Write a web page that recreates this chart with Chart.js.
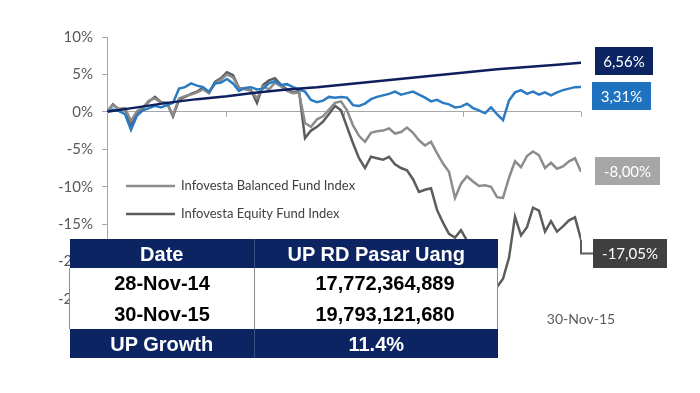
<!DOCTYPE html>
<html>
<head>
<meta charset="utf-8">
<script src="https://cdn.jsdelivr.net/npm/chart.js@4.4.0/dist/chart.umd.min.js"></script>
<style>
    html, body { margin: 0; padding: 0; background: #fff; }
    #wrap { position: relative; width: 700px; height: 393px; overflow: hidden; }
    #scores-chart { position: absolute; left: 0; top: 0; }
    #up-table {
        position: absolute; left: 69px; top: 239px; width: 428px;
        border-collapse: collapse; table-layout: fixed;
        font-family: 'Liberation Sans', Arial, sans-serif; font-weight: bold; font-size: 20px;
    }
    #up-table td { text-align: center; padding: 0; line-height: 1; }
    #up-table tr.head td { background: #0c2462; color: #fff; }
    #up-table tr.body td { background: #fff; color: #000; border-left: 1px solid #8c8c8c; border-right: 1px solid #8c8c8c; }
    #up-table tr.body td + td { padding-left: 18px; }
    #up-table tr.head td + td { border-left: 1px solid #3b4f80; }
</style>
</head>
<body>
<div id="wrap">
    <canvas id="scores-chart" width="700" height="393"></canvas>
    <table id="up-table">
        <colgroup><col style="width:185px"><col style="width:243px"></colgroup>
        <tr class="head" style="height:29px"><td>Date</td><td>UP RD Pasar Uang</td></tr>
        <tr class="body" style="height:30px"><td>28-Nov-14</td><td>17,772,364,889</td></tr>
        <tr class="body" style="height:31px"><td>30-Nov-15</td><td>19,793,121,680</td></tr>
        <tr class="head" style="height:29px"><td>UP Growth</td><td>11.4%</td></tr>
    </table>
</div>
<script>
/* globals Chart */
const tickLabels = ['28-Nov-14', '27-Feb-15', '29-May-15', '31-Aug-15', '30-Nov-15'];
const tickIndex = [0, 19.75, 39.5, 59.25, 79];
const yTicks = [10, 5, 0, -5, -10, -15, -20, -25];

// money market line, read at every 5th observation
const pasarUangIdx = [0, 5, 10, 15, 20, 25, 30, 35, 40, 45, 50, 55, 60, 65, 70, 75, 79];
const pasarUang = [0, 0.6, 1.2, 1.7, 2.1, 2.6, 3.0, 3.3, 3.7, 4.1, 4.5, 4.9, 5.3, 5.7, 6.0, 6.3, 6.56];

const benchmark = [
    0, 0.3, 0.1, -0.3, -2.4, -0.5, 0.2, 0.5, 0.8, 0.6,
    0.9, 1.2, 3.1, 3.3, 3.8, 3.5, 3.3, 2.7, 3.8, 3.9,
    4.4, 3.8, 2.8, 3.2, 3.3, 3.0, 3.1, 3.8, 4.1, 3.6,
    3.7, 3.3, 3.0, 2.7, 1.6, 1.3, 1.5, 2.0, 1.9, 2.0,
    1.9, 0.9, 0.8, 1.1, 1.7, 2.0, 2.2, 2.4, 2.7, 2.3,
    2.5, 2.7, 2.3, 1.9, 1.4, 1.6, 1.2, 1.0, 0.6, 0.7,
    1.1, 0.5, 0.2, -0.2, 0.6, -0.3, -1.1, 1.5, 2.6, 2.9,
    2.4, 2.7, 2.3, 2.6, 2.2, 2.6, 2.9, 3.1, 3.3, 3.31,
];

const balancedFund = [
    0, 0.9, 0.4, 0.5, -1.2, 0.1, 0.6, 1.5, 1.8, 1.2,
    1.1, -0.4, 1.8, 2.1, 2.3, 2.6, 3.0, 2.5, 3.8, 4.3,
    5.0, 4.6, 3.2, 3.0, 2.8, 1.8, 3.4, 3.0, 3.9, 3.4,
    2.8, 2.5, 2.6, -1.5, -2.0, -1.0, -0.6, 0.3, 1.2, 1.4,
    0.2, -1.8, -3.2, -4.0, -2.8, -2.6, -2.5, -2.2, -2.9, -2.7,
    -2.1, -2.8, -3.8, -4.5, -4.0, -5.5, -6.9, -8.0, -11.5, -9.6,
    -8.6, -9.3, -9.9, -9.8, -10.0, -11.4, -11.5, -8.8, -6.6, -7.4,
    -5.9, -5.3, -5.8, -7.5, -6.8, -7.6, -7.3, -6.6, -6.2, -8.00,
];

const equityFund = [
    0, 1.0, 0.3, 0.4, -1.8, -0.2, 0.5, 1.4, 2.0, 1.3,
    1.2, -0.6, 1.6, 2.0, 2.4, 2.7, 3.2, 2.5, 4.0, 4.5,
    5.3, 4.9, 3.2, 3.1, 2.9, 1.2, 3.6, 4.2, 4.5, 3.6,
    3.0, 2.6, 2.8, -3.5, -2.5, -2.0, -1.3, -0.3, 0.8, 0.2,
    -2.0, -4.2, -6.2, -7.5, -6.0, -6.2, -6.4, -6.0, -7.0, -7.5,
    -7.8, -9.0, -10.7, -10.4, -10.2, -13.1, -14.8, -16.3, -16.8, -15.8,
    -17.2, -18.5, -19.0, -18.3, -21.0, -23.4, -22.3, -19.5, -14.0, -16.5,
    -15.4, -12.8, -13.2, -16.0, -14.6, -16.0, -15.3, -14.5, -14.1, -17.05,
];

(function () {
    const AXIS_GREY = '#a6a6a6';
    const TEXT_GREY = '#595959';

    const series = [
        { name: 'RD Pasar Uang', x: pasarUangIdx, y: pasarUang, color: '#0d1f5c' },
        { name: 'Benchmark', x: null, y: benchmark, color: '#2b7bc2' },
        { name: 'Infovesta Balanced Fund Index', x: null, y: balancedFund, color: '#8c8c8c' },
        { name: 'Infovesta Equity Fund Index', x: null, y: equityFund, color: '#5c5c5c' },
    ];

    // end-value boxes on the right
    const endBoxes = [
        { left: 595, top: 47, w: 58, h: 28, bg: '#0c2462' },
        { left: 592, top: 82, w: 59, h: 28, bg: '#1f72c0' },
        { left: 595, top: 157, w: 65, h: 28, bg: '#a6a6a6' },
        { left: 593, top: 239, w: 74, h: 29, bg: '#404040', leader: true },
    ];

    function toPoints(s) {
        return s.y.map((v, i) => ({ x: s.x ? s.x[i] : i, y: v }));
    }

    function fmt(v) {
        return v.toFixed(2).replace('.', ',') + '%';
    }

    const decorations = {
        id: 'decorations',
        afterDatasetsDraw(chart) {
            const ctx = chart.ctx;
            const xs = chart.scales.x;
            const ys = chart.scales.y;
            const y0 = ys.getPixelForValue(0);

            // tick marks hanging from the zero line
            ctx.save();
            ctx.strokeStyle = AXIS_GREY;
            ctx.lineWidth = 1;
            tickIndex.forEach((t) => {
                const px = Math.round(xs.getPixelForValue(t)) + 0.5;
                ctx.beginPath();
                ctx.moveTo(px, y0);
                ctx.lineTo(px, y0 + 5);
                ctx.stroke();
            });

            // legend for the two grey lines
            ctx.font = '13px Lato';
            ctx.textBaseline = 'middle';
            [[2, 186], [3, 214]].forEach(([si, ly]) => {
                ctx.strokeStyle = series[si].color;
                ctx.lineWidth = 2.5;
                ctx.beginPath();
                ctx.moveTo(126, ly);
                ctx.lineTo(175, ly);
                ctx.stroke();
                ctx.fillStyle = '#404040';
                ctx.fillText(series[si].name, 181, ly);
            });

            // end value boxes
            ctx.font = '15px Lato';
            ctx.textAlign = 'center';
            endBoxes.forEach((b, i) => {
                const s = series[i];
                const last = s.y[s.y.length - 1];
                if (b.leader) {
                    const ex = xs.getPixelForValue(s.x ? s.x[s.x.length - 1] : s.y.length - 1);
                    const ey = ys.getPixelForValue(last);
                    const by = b.top + b.h / 2;
                    ctx.strokeStyle = s.color;
                    ctx.lineWidth = 2;
                    ctx.beginPath();
                    ctx.moveTo(ex, ey);
                    ctx.lineTo(ex, by);
                    ctx.lineTo(b.left, by);
                    ctx.stroke();
                }
                ctx.fillStyle = b.bg;
                ctx.fillRect(b.left, b.top, b.w, b.h);
                ctx.fillStyle = '#fff';
                ctx.fillText(fmt(last), b.left + b.w / 2, b.top + b.h / 2 + 1);
            });
            ctx.restore();
        },
    };

    const ctx = document.getElementById('scores-chart');

    new Chart(ctx, {
        type: 'line',
        data: {
            datasets: series.map((s) => ({
                label: s.name,
                data: toPoints(s),
                borderColor: s.color,
                borderWidth: 2.5,
                pointRadius: 0,
                tension: 0,
                fill: false,
            })),
        },
        options: {
            responsive: false,
            animation: false,
            layout: { padding: { top: 37, right: 119, left: 0, bottom: 0 } },
            plugins: {
                legend: { display: false },
                tooltip: { enabled: false },
            },
            scales: {
                x: {
                    type: 'linear',
                    min: 0,
                    max: 79,
                    afterBuildTicks(scale) {
                        scale.ticks = tickIndex.map((v) => ({ value: v }));
                    },
                    afterFit(scale) {
                        scale.height = 94;
                    },
                    grid: { display: false, drawTicks: false },
                    border: { display: false },
                    ticks: {
                        autoSkip: false,
                        maxRotation: 0,
                        padding: 12,
                        color: TEXT_GREY,
                        font: { family: 'Lato', size: 14 },
                        callback: (v) => tickLabels[tickIndex.indexOf(v)],
                    },
                },
                y: {
                    min: -25,
                    max: 10,
                    afterBuildTicks(scale) {
                        scale.ticks = yTicks.map((v) => ({ value: v }));
                    },
                    afterFit(scale) {
                        scale.width = 107;
                    },
                    grid: {
                        color: (c) => (c.tick && c.tick.value === 0 ? AXIS_GREY : 'rgba(0,0,0,0)'),
                        tickColor: AXIS_GREY,
                        tickLength: 5,
                        lineWidth: 1,
                    },
                    border: { display: true, color: AXIS_GREY },
                    ticks: {
                        padding: 9,
                        color: TEXT_GREY,
                        font: { family: 'Lato', size: 15 },
                        callback: (v) => v + '%',
                    },
                },
            },
        },
        plugins: [decorations],
    });
})();
</script>
</body>
</html>
